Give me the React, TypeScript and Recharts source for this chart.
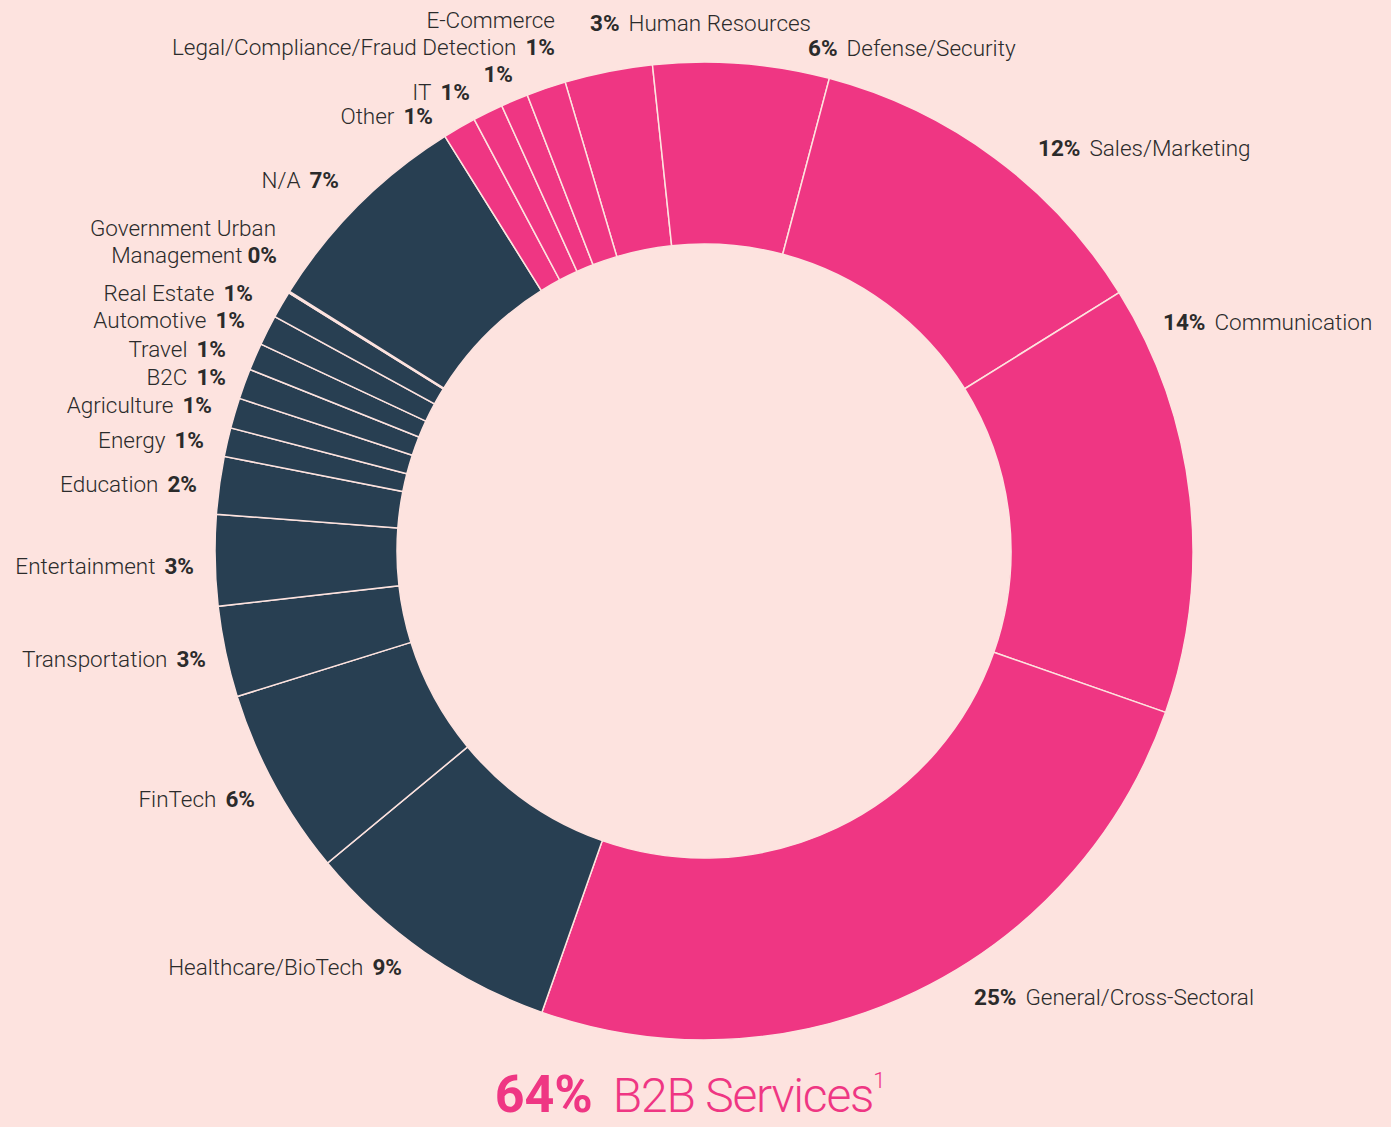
import { PieChart, Pie, Cell } from "recharts";

// slices clockwise, starting at Human Resources (top)
const SECTORS = [
  "Human Resources",
  "Defense/Security",
  "Sales/Marketing",
  "Communication",
  "General/Cross-Sectoral",
  "Healthcare/BioTech",
  "FinTech",
  "Transportation",
  "Entertainment",
  "Education",
  "Energy",
  "Agriculture",
  "B2C",
  "Travel",
  "Automotive",
  "Real Estate",
  "Government Urban Management",
  "N/A",
  "Other",
  "IT",
  "E-Commerce",
  "Legal/Compliance/Fraud Detection",
];

const SHARES = [
  2.9, 5.8, 12.0, 14.2, 25.0, 8.6, 6.2, 3.0, 3.0, 1.9, 0.95, 1.0, 1.0, 0.9,
  1.0, 0.9, 0.05, 7.2, 1.1, 1.0, 0.9, 1.3,
];

const SHOWN_PCT = [
  "3%", "6%", "12%", "14%", "25%", "9%", "6%", "3%", "3%", "2%", "1%", "1%",
  "1%", "1%", "1%", "1%", "0%", "7%", "1%", "1%", "1%", "1%",
];

const IS_B2B = [
  true, true, true, true, true, false, false, false, false, false, false,
  false, false, false, false, false, false, false, true, true, true, true,
];

const TOTAL_LABEL = "64%";
const TOTAL_NAME = "B2B Services";

const PINK = "#EF3683";
const NAVY = "#283F52";
const BG = "#FDE3DF";
const INK = "#2B2B2B";

type Line = {
  x: number;
  y: number;
  side: "L" | "R";
  name?: string;
  pct?: string;
  gap?: number;
};

// hand-placed label layout, one entry per slice
const LABEL_LAYOUT: Line[][] = [
  [{ x: 590, y: 31, side: "R" }],
  [{ x: 808, y: 56, side: "R" }],
  [{ x: 1038, y: 156, side: "R" }],
  [{ x: 1163, y: 330, side: "R" }],
  [{ x: 974, y: 1005, side: "R" }],
  [{ x: 402, y: 975, side: "L" }],
  [{ x: 255, y: 807, side: "L" }],
  [{ x: 206, y: 667, side: "L" }],
  [{ x: 194, y: 574, side: "L" }],
  [{ x: 197, y: 492, side: "L" }],
  [{ x: 204, y: 448, side: "L" }],
  [{ x: 212, y: 413, side: "L" }],
  [{ x: 226, y: 385, side: "L" }],
  [{ x: 226, y: 357, side: "L" }],
  [{ x: 245, y: 328, side: "L" }],
  [{ x: 253, y: 301, side: "L" }],
  [
    { x: 276, y: 236, side: "L", name: "Government Urban", pct: "" },
    { x: 277, y: 263, side: "L", name: "Management", gap: 5 },
  ],
  [{ x: 339, y: 188, side: "L" }],
  [{ x: 433, y: 124, side: "L" }],
  [{ x: 470, y: 100, side: "L" }],
  [
    { x: 555, y: 28, side: "L", pct: "" },
    { x: 513, y: 82, side: "L", name: "" },
  ],
  [{ x: 555, y: 55, side: "L" }],
];

const data = SECTORS.map((name, i) => ({
  name,
  value: SHARES[i],
  pct: SHOWN_PCT[i],
  b2b: IS_B2B[i],
}));

const FONT = "Roboto, 'Noto Sans', sans-serif";
const FS = 22.5;

function renderLabel(props: any) {
  const i = props.index;
  const entry = data[i];
  const lines = LABEL_LAYOUT[i] || [];
  return (
    <g key={`lbl-${i}`}>
      {lines.map((ln, k) => {
        const name = ln.name !== undefined ? ln.name : entry.name;
        const pct = ln.pct !== undefined ? ln.pct : entry.pct;
        const gap = ln.gap ?? 9;
        if (ln.side === "R") {
          return (
            <text
              key={k}
              x={ln.x}
              y={ln.y}
              textAnchor="start"
              fontFamily={FONT}
              fontSize={FS}
              fill={INK}
            >
              <tspan fontWeight={700}>{pct}</tspan>
              <tspan dx={gap} fontWeight={300}>
                {name}
              </tspan>
            </text>
          );
        }
        return (
          <text
            key={k}
            x={ln.x}
            y={ln.y}
            textAnchor="end"
            fontFamily={FONT}
            fontSize={FS}
            fill={INK}
          >
            {name ? <tspan fontWeight={300}>{name}</tspan> : null}
            {pct ? (
              <tspan dx={name ? gap : 0} fontWeight={700}>
                {pct}
              </tspan>
            ) : null}
          </text>
        );
      })}
    </g>
  );
}

export default function App() {
  return (
    <div
      style={{
        position: "absolute",
        left: 0,
        top: 0,
        width: 1391,
        height: 1127,
        background: BG,
        overflow: "hidden",
      }}
    >
      <PieChart
        width={1391}
        height={1127}
        margin={{ top: 0, right: 0, bottom: 0, left: 0 }}
      >
        <Pie
          data={data}
          dataKey="value"
          nameKey="name"
          cx={704}
          cy={551}
          innerRadius={307}
          outerRadius={489}
          startAngle={106.5}
          endAngle={-253.5}
          stroke={BG}
          strokeWidth={1.5}
          label={renderLabel}
          labelLine={false}
          isAnimationActive={false}
        >
          {data.map((d, i) => (
            <Cell key={i} fill={d.b2b ? PINK : NAVY} />
          ))}
        </Pie>
        <text
          x={690}
          y={1112}
          textAnchor="middle"
          fontFamily={FONT}
          fill={PINK}
        >
          <tspan fontSize={52} fontWeight={700}>
            {TOTAL_LABEL}
          </tspan>
          <tspan dx={20} fontSize={48} fontWeight={300} letterSpacing={-1.2}>
            {TOTAL_NAME}
          </tspan>
          <tspan fontSize={22} fontWeight={300} dy={-24}>
            1
          </tspan>
        </text>
      </PieChart>
    </div>
  );
}
